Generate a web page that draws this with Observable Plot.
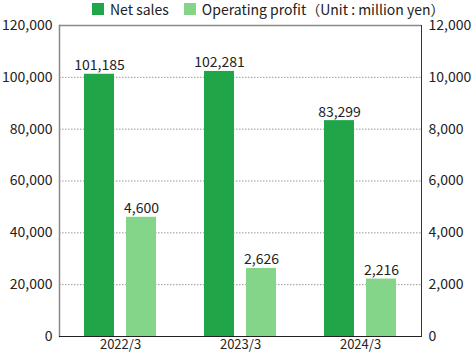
<!DOCTYPE html>
<html><head><meta charset="utf-8">
<script src="https://cdn.jsdelivr.net/npm/d3@7"></script>
<script src="https://cdn.jsdelivr.net/npm/@observablehq/plot@0.6"></script>
<style>
body{margin:0;font-family:"Noto Sans CJK JP","Noto Sans",sans-serif;background:#fff;position:relative;}
#legend{position:absolute;left:0;top:0;height:18px;display:flex;align-items:center;padding-left:92px;font-size:14px;color:#222;white-space:nowrap;}
.sw{width:12px;height:12px;margin-right:6px;flex:none;}
#chart svg{display:block;}
</style></head><body>
<div id="chart"></div>
<div id="legend"></div>
<script>
const years = ["2022/3", "2023/3", "2024/3"];
const netSales = [101185, 102281, 83299];
const operatingProfit = [4600, 2626, 2216];
const leftTicks = [0, 20000, 40000, 60000, 80000, 100000, 120000];
const rightTicks = [0, 2000, 4000, 6000, 8000, 10000, 12000];
const seriesNames = ["Net sales", "Operating profit（Unit : million yen）"];
const colors = ["#21a549", "#84d48a"];

const ratio = leftTicks[leftTicks.length - 1] / rightTicks[rightTicks.length - 1];
const fmt = d3.format(",");
const net = years.map((y, i) => ({year: y, value: netSales[i]}));
const op = years.map((y, i) => ({year: y, value: operatingProfit[i]}));

const legend = document.getElementById("legend");
seriesNames.forEach((name, i) => {
  const sw = document.createElement("span");
  sw.className = "sw";
  sw.style.background = colors[i];
  if (i > 0) sw.style.marginLeft = "15px";
  const t = document.createElement("span");
  t.textContent = name;
  legend.appendChild(sw);
  legend.appendChild(t);
});

const chart = Plot.plot({
  width: 473, height: 354,
  marginTop: 25, marginBottom: 18, marginLeft: 59, marginRight: 52,
  style: {fontFamily: '"Noto Sans CJK JP","Noto Sans",sans-serif', fontSize: "14px", color: "#222", background: "#fff"},
  x: {domain: years, padding: 0, label: null, axis: null},
  y: {domain: [leftTicks[0], leftTicks[leftTicks.length - 1]], label: null, axis: null},
  marks: [
    Plot.ruleY(leftTicks.slice(1, -1), {stroke: "#999", strokeDasharray: "1.5,1.5"}),
    Plot.barY(net, {x: "year", y: "value", fill: colors[0], insetLeft: 24, insetRight: 66}),
    Plot.barY(op, {x: "year", y: d => d.value * ratio, fill: colors[1], insetLeft: 66, insetRight: 24}),
    Plot.text(net, {x: "year", y: "value", text: d => fmt(d.value), dx: -21, dy: -4, lineAnchor: "bottom", fontSize: 14, fill: "#222"}),
    Plot.text(op, {x: "year", y: d => d.value * ratio, text: d => fmt(d.value), dx: 21, dy: -4, lineAnchor: "bottom", fontSize: 14, fill: "#222"}),
    Plot.ruleY([leftTicks[leftTicks.length - 1]], {stroke: "#888", strokeWidth: 1.5}),
    Plot.frame({anchor: "left", stroke: "#888", strokeWidth: 1.5}),
    Plot.frame({anchor: "right", stroke: "#333"}),
    Plot.ruleY([0], {stroke: "#222", strokeWidth: 1.2}),
    Plot.axisY(leftTicks, {anchor: "left", tickSize: 0, tickPadding: 7, tickFormat: fmt, label: null, fontSize: 14}),
    Plot.axisY(rightTicks.map(d => d * ratio), {anchor: "right", tickSize: 0, tickPadding: 7, tickFormat: d => fmt(d / ratio), label: null, fontSize: 14}),
    Plot.axisX({tickSize: 0, tickPadding: 3, fontSize: 13, label: null})
  ]
});
document.getElementById("chart").appendChild(chart);
</script>
</body></html>
